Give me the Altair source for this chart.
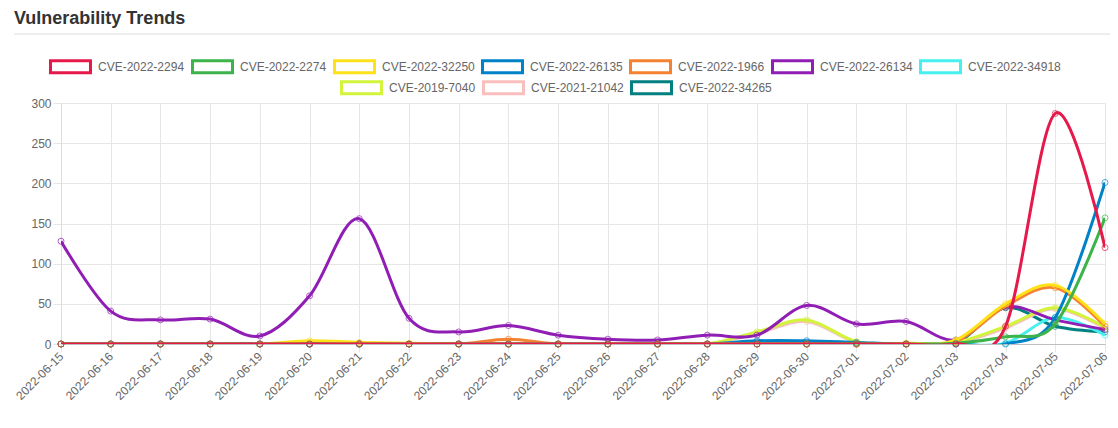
import altair as alt
import pandas as pd

dates = ["2022-06-15", "2022-06-16", "2022-06-17", "2022-06-18", "2022-06-19",
         "2022-06-20", "2022-06-21", "2022-06-22", "2022-06-23", "2022-06-24",
         "2022-06-25", "2022-06-26", "2022-06-27", "2022-06-28", "2022-06-29",
         "2022-06-30", "2022-07-01", "2022-07-02", "2022-07-03", "2022-07-04",
         "2022-07-05", "2022-07-06"]

series_names = ["CVE-2022-2294", "CVE-2022-2274", "CVE-2022-32250", "CVE-2022-26135",
                "CVE-2022-1966", "CVE-2022-26134", "CVE-2022-34918", "CVE-2019-7040",
                "CVE-2021-21042", "CVE-2022-34265"]

series_colors = ["#e6194b", "#3cb44b", "#ffe119", "#0082c8", "#f58231",
                 "#911eb4", "#46f0f0", "#d2f53c", "#fabebe", "#008080"]

chart_title = "Vulnerability Trends"

cve_2022_2294 = [0, 0, 0, 0, 0, 0, 0, 0, 0, 0, 0, 0, 0, 0, 0, 0, 0, 0, 0, 22, 287, 120]
cve_2022_2274 = [0, 0, 0, 0, 0, 0, 0, 0, 0, 0, 0, 0, 0, 0, 0, 0, 1, 0, 1, 9, 25, 157]
cve_2022_32250 = [0, 0, 0, 0, 0, 4, 2, 1, 0, 0, 0, 0, 0, 0, 0, 0, 0, 1, 5, 50, 73, 25]
cve_2022_26135 = [0, 0, 0, 0, 0, 0, 0, 0, 0, 0, 0, 0, 0, 0, 4, 4, 2, 0, 0, 0, 33, 201]
cve_2022_1966 = [0, 0, 0, 0, 0, 0, 1, 0, 0, 6, 0, 0, 0, 0, 0, 0, 0, 0, 3, 47, 70, 22]
cve_2022_26134 = [128, 41, 30, 31, 10, 60, 156, 32, 15, 23, 11, 6, 5, 11, 11, 48, 25, 28, 5, 46, 30, 18]
cve_2022_34918 = [0, 0, 0, 0, 0, 0, 0, 0, 0, 0, 0, 0, 0, 0, 0, 0, 0, 0, 0, 1, 33, 11]
cve_2019_7040 = [0, 0, 0, 0, 0, 0, 0, 0, 0, 0, 0, 0, 0, 0, 15, 30, 3, 0, 2, 22, 45, 21]
cve_2021_21042 = [0, 0, 0, 0, 0, 0, 0, 0, 0, 0, 0, 0, 0, 0, 13, 28, 2, 0, 1, 20, 44, 19]
cve_2022_34265 = [0, 0, 0, 0, 0, 0, 0, 0, 0, 0, 0, 0, 0, 0, 0, 0, 0, 0, 1, 45, 22, 15]

all_values = [cve_2022_2294, cve_2022_2274, cve_2022_32250, cve_2022_26135, cve_2022_1966,
              cve_2022_26134, cve_2022_34918, cve_2019_7040, cve_2021_21042, cve_2022_34265]

rows = []
for name, vals in zip(series_names, all_values):
    for d, v in zip(dates, vals):
        rows.append({"date": d, "cve": name, "value": v})
df = pd.DataFrame(rows)

FONT = "Liberation Sans"

x_enc = alt.X("date:O", scale=alt.Scale(type="point", padding=0), title=None,
              axis=alt.Axis(labelAngle=-45, labelAlign="right", labelBaseline="middle",
                            labelFont=FONT, labelFontSize=12, labelColor="#666",
                            grid=True, gridColor="#e6e6e6", tickColor="#e6e6e6",
                            tickSize=8, labelPadding=2, domainColor="#bfbfbf"))
y_enc = alt.Y("value:Q", scale=alt.Scale(domain=[0, 300], nice=False), title=None,
              axis=alt.Axis(values=[0, 50, 100, 150, 200, 250, 300], labelFont=FONT,
                            labelFontSize=12, labelColor="#666", grid=True,
                            gridColor="#e6e6e6", tickColor="#e6e6e6", tickSize=8,
                            labelPadding=2, domainColor="#dcdcdc"))


def make_group(names, cols, lx, ly, ncol):
    legend = alt.Legend(orient="none", legendX=lx, legendY=ly, direction="horizontal",
                        columns=ncol, title=None, symbolType="M-1,-0.3H1V0.3H-1Z",
                        symbolSize=1600, symbolStrokeWidth=3, symbolFillColor="white",
                        symbolOpacity=1, labelFont=FONT, labelFontSize=12,
                        labelColor="#666", columnPadding=1, labelOffset=6, padding=0,
                        rowPadding=0)
    color = alt.Color("cve:N", scale=alt.Scale(domain=names, range=cols), legend=legend)
    layers = []
    for name in reversed(names):
        sub = df[df["cve"] == name]
        line = alt.Chart(sub).mark_line(interpolate="cardinal", strokeWidth=3, clip=True).encode(
            x=x_enc, y=y_enc, color=color)
        pts = alt.Chart(sub).mark_point(filled=False, size=36, strokeWidth=1, opacity=0.7).encode(
            x=x_enc, y=y_enc, color=color)
        layers += [line, pts]
    return alt.layer(*layers)


group_a = make_group(series_names[:7], series_colors[:7], -12, -58, 7)
group_b = make_group(series_names[7:], series_colors[7:], 279, -37, 3)

title_rule = alt.Chart(pd.DataFrame({"a": [0]})).mark_rule(color="#dddddd", strokeWidth=1).encode(
    x=alt.value(-47), x2=alt.value(1049), y=alt.value(-69))

title_text = alt.Chart(pd.DataFrame({"t": [chart_title]})).mark_text(
    align="left", baseline="alphabetic", font=FONT, fontSize=18, fontWeight="bold",
    color="#333333").encode(x=alt.value(-47), y=alt.value(-79), text="t:N")

chart = alt.layer(group_b, group_a, title_rule, title_text).resolve_scale(color="independent").properties(
    width=1044, height=241,
    autosize=alt.AutoSizeParams(type="none"),
    padding={"left": 53, "top": 95, "right": 5, "bottom": 76},
).configure_view(stroke=None).configure(background="white")

chart.save("out.html", embed_options={"renderer": "svg", "actions": False})
